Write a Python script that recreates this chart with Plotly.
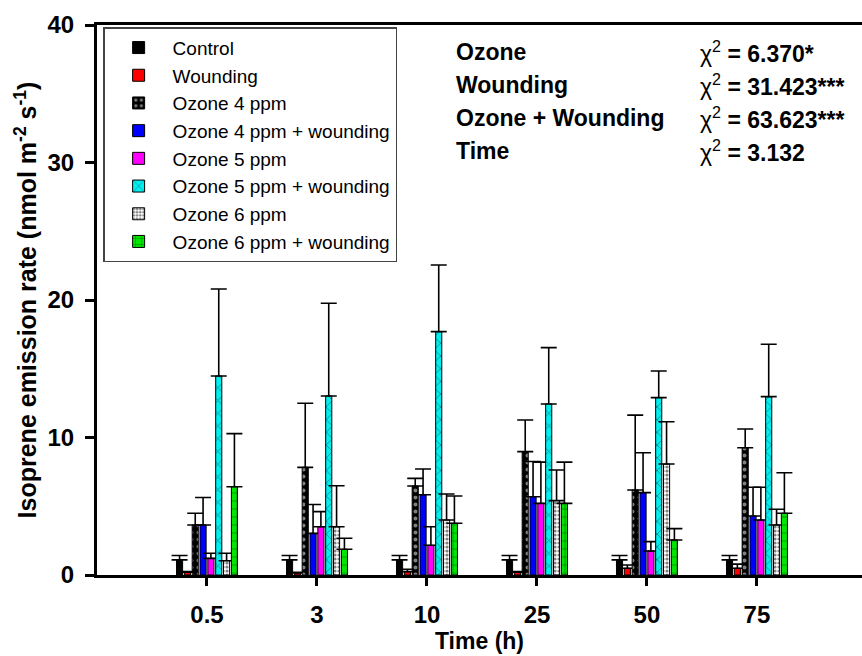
import plotly.graph_objects as go

times = ["0.5", "3", "10", "25", "50", "75"]

series_names = ["Control", "Wounding", "Ozone 4 ppm", "Ozone 4 ppm + wounding",
                "Ozone 5 ppm", "Ozone 5 ppm + wounding", "Ozone 6 ppm", "Ozone 6 ppm + wounding"]

control = [1.1, 1.1, 1.1, 1.1, 1.1, 1.1]
control_err = [0.32, 0.32, 0.32, 0.32, 0.32, 0.32]
wounding = [0.2, 0.15, 0.24, 0.2, 0.49, 0.49]
wounding_err = [0.05, 0.05, 0.17, 0.05, 0.24, 0.3]
ozone4 = [3.64, 7.83, 6.47, 8.97, 6.18, 9.26]
ozone4_err = [0.85, 4.66, 0.56, 2.3, 5.45, 1.36]
ozone4w = [3.64, 3.03, 5.84, 5.69, 5.99, 4.29]
ozone4w_err = [2.0, 2.1, 1.87, 2.56, 2.9, 2.09]
ozone5 = [1.21, 3.51, 2.16, 5.21, 1.75, 4.0]
ozone5_err = [0.37, 1.1, 1.35, 3.0, 0.68, 2.38]
ozone5w = [14.47, 13.02, 17.7, 12.44, 12.9, 12.97]
ozone5w_err = [6.33, 6.74, 4.85, 4.1, 1.94, 3.81]
ozone6 = [1.04, 3.51, 4.0, 5.41, 8.07, 3.64]
ozone6_err = [0.54, 2.98, 1.89, 2.23, 3.08, 1.14]
ozone6w = [6.42, 1.87, 3.76, 5.21, 2.55, 4.49]
ozone6w_err = [3.86, 0.8, 1.99, 3.0, 0.82, 2.95]

stat_labels = ["Ozone", "Wounding", "Ozone + Wounding", "Time"]
stat_values = ["6.370*", "31.423***", "63.623***", "3.132"]

values = [control, wounding, ozone4, ozone4w, ozone5, ozone5w, ozone6, ozone6w]
errors = [control_err, wounding_err, ozone4_err, ozone4w_err, ozone5_err, ozone5w_err, ozone6_err, ozone6w_err]

styles = [
    dict(color="#000000", pattern=dict(shape="")),
    dict(color="#ff0000", pattern=dict(shape="")),
    dict(color="#000000", pattern=dict(shape=".", fgcolor="#ffffff", size=7, solidity=0.25)),
    dict(color="#0000ff", pattern=dict(shape="")),
    dict(color="#ff00ff", pattern=dict(shape="")),
    dict(color="#00f0f0", pattern=dict(shape="x", fgcolor="#1f3f3f", size=9, solidity=0.2)),
    dict(color="#ffffff", pattern=dict(shape=".", fgcolor="#000000", size=4, solidity=0.5)),
    dict(color="#00e600", pattern=dict(shape="+", fgcolor="#000000", size=8, solidity=0.15)),
]

FONT = "Liberation Sans, Arial, sans-serif"

fig = go.Figure()
for name, v, e, s in zip(series_names, values, errors, styles):
    fig.add_trace(go.Bar(
        name=name, x=times, y=v,
        marker=dict(color=s["color"], pattern=s["pattern"],
                    line=dict(color="#000000", width=1)),
        error_y=dict(type="data", array=e, arrayminus=[0] * len(e), symmetric=False,
                     color="#000000", thickness=1.6, width=8),
    ))

# statistics text
row_y = [0.951, 0.891, 0.831, 0.771]
for lab, val, yy in zip(stat_labels, stat_values, row_y):
    fig.add_annotation(xref="paper", yref="paper", x=0.467, y=yy, xanchor="left", yanchor="middle",
                       text="<b>" + lab + "</b>", showarrow=False,
                       font=dict(family=FONT, size=23, color="#000000"))
    fig.add_annotation(xref="paper", yref="paper", x=0.785, y=yy, xanchor="left", yanchor="middle",
                       text="χ<sup>2</sup><b> = " + val + "</b>", showarrow=False,
                       font=dict(family=FONT, size=23, color="#000000"))

fig.update_layout(
    width=862, height=656,
    margin=dict(l=97, r=0, t=25, b=81),
    paper_bgcolor="white", plot_bgcolor="white",
    barmode="group", bargap=0.43, bargroupgap=0.22,
    font=dict(family=FONT, color="#000000"),
    legend=dict(x=0.008, y=0.996, xanchor="left", yanchor="top",
                bgcolor="white", bordercolor="#444444", borderwidth=1.5,
                font=dict(family=FONT, size=19, color="#000000"),
                itemwidth=58, tracegroupgap=0),
    showlegend=True,
)

fig.update_xaxes(
    type="category", range=[-1, 5.955],
    showline=True, linecolor="#000000", linewidth=3, mirror=True,
    ticks="outside", ticklen=8, tickwidth=3, tickcolor="#000000",
    showgrid=False, zeroline=False,
    tickfont=dict(family=FONT, size=24, color="#000000", weight="bold"),
    ticklabelstandoff=8,
    title=dict(text="<b>Time (h)</b>", font=dict(family=FONT, size=23, color="#000000"), standoff=4),
)
fig.update_yaxes(
    range=[0, 40], tickvals=[0, 10, 20, 30, 40],
    showline=True, linecolor="#000000", linewidth=3,
    ticks="outside", ticklen=9, tickwidth=3, tickcolor="#000000",
    showgrid=False, zeroline=False,
    tickfont=dict(family=FONT, size=24, color="#000000", weight="bold"),
    ticklabelstandoff=6,
    title=dict(text="<b>Isoprene emission rate (nmol m<sup>-2</sup> s<sup>-1</sup>)</b>",
               font=dict(family=FONT, size=25, color="#000000"), standoff=4),
)

fig.write_html("out.html")
